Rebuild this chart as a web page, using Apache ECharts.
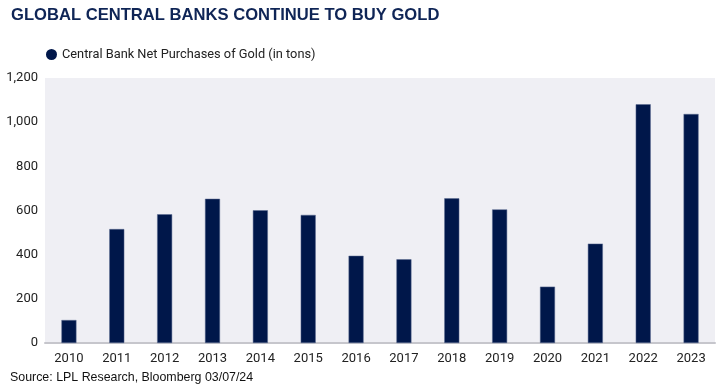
<!DOCTYPE html>
<html><head><meta charset="utf-8">
<script src="https://cdn.jsdelivr.net/npm/echarts@6/dist/echarts.min.js"></script>
<style>html,body{margin:0;padding:0;background:#fff}#c{width:723px;height:392px}</style>
</head><body><div id="c"></div>
<script>
const categories = ['2010','2011','2012','2013','2014','2015','2016','2017','2018','2019','2020','2021','2022','2023'];
const purchases = [104, 516, 583, 653, 601, 580, 395, 379, 655, 605, 255, 450, 1081, 1037];
const seriesName = 'Central Bank Net Purchases of Gold (in tons)';
const titleText = 'GLOBAL CENTRAL BANKS CONTINUE TO BUY GOLD';
const sourceText = 'Source: LPL Research, Bloomberg 03/07/24';

const chart = echarts.init(document.getElementById('c'));
chart.setOption({
  animation: false,
  backgroundColor: '#ffffff',
  title: [{
    text: titleText, left: 6, top: 2,
    textStyle: {fontFamily: 'Liberation Sans', fontWeight: 'bold', fontSize: 16.6, color: '#0f2556'}
  }, {
    text: sourceText, left: 5, bottom: 3,
    textStyle: {fontFamily: 'Liberation Sans', fontWeight: 'normal', fontSize: 12.4, color: '#111'}
  }],
  legend: {
    left: 41, top: 43, icon: 'circle', itemWidth: 11, itemHeight: 11, itemGap: 5,
    itemStyle: {borderWidth: 0},
    textStyle: {fontFamily: 'Roboto', fontSize: 12.8, color: '#222'},
    data: [seriesName]
  },
  grid: {left: 45, right: 8, top: 78, bottom: 49, show: true, backgroundColor: '#efeff4', borderWidth: 0},
  xAxis: {
    type: 'category', data: categories,
    axisLine: {lineStyle: {color: '#c6c6cc', width: 2}},
    axisTick: {show: false},
    axisLabel: {fontFamily: 'Roboto', fontSize: 13, color: '#222', margin: 9}
  },
  yAxis: {
    type: 'value', min: 0, max: 1200, interval: 200,
    splitLine: {show: false},
    axisLine: {show: false}, axisTick: {show: false},
    axisLabel: {fontFamily: 'Roboto', fontSize: 13, color: '#222', margin: 7,
      formatter: v => v.toLocaleString('en-US')}
  },
  series: [{
    name: seriesName, type: 'bar', data: purchases, barWidth: 15,
    itemStyle: {color: '#00174a', borderColor: '#5a6b90', borderWidth: 0.5}
  }]
});
</script></body></html>
